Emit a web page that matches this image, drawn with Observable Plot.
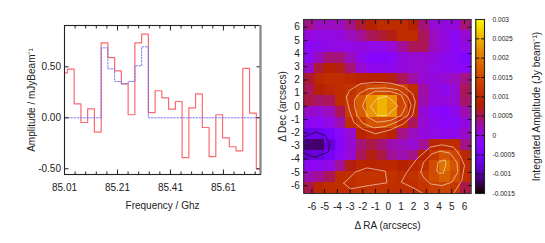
<!DOCTYPE html>
<html><head><meta charset="utf-8">
<script src="https://cdn.jsdelivr.net/npm/d3@7"></script>
<script src="https://cdn.jsdelivr.net/npm/@observablehq/plot@0.6"></script>
<style>
html,body{margin:0;padding:0;background:#fff}
#c{position:relative;width:545px;height:243px;overflow:hidden}
#c svg{position:absolute;top:0;background:transparent}
</style></head><body><div id="c"></div>
<script>
// Spectrum: left edge of each channel (GHz) and amplitudes (mJy/beam)
const freqEdges = [85.01,85.021,85.0465,85.072,85.0974,85.1229,85.1484,85.1738,85.1993,85.2248,85.2502,85.2757,85.3012,85.3266,85.3521,85.3776,85.4031,85.4285,85.454,85.4795,85.5049,85.5304,85.5559,85.5813,85.6068,85.6323,85.6577,85.6832,85.7087,85.7342,85.75];
const amplitude = [0.44,0.477,0.137,-0.046,0.088,-0.14,0.735,0.59,0.46,0.333,0.03,0.735,0.82,0.05,0.265,0.196,0.085,0.16,-0.39,0.098,0.235,-0.095,-0.38,0.03,-0.196,-0.284,-0.324,0.484,0.046,-0.5,-0.5];
const model = [0,0,0,0,0,0,0.686,0.48,0.356,0.333,0.356,0.51,0.696,0,0,0,0,0,0,0,0,0,0,0,0,0,0,0,0,0,0];

// Map: pixel edges in arcsec and integrated amplitude (mJy/beam), top row first
const raEdges = [-6.64,-5.817,-4.994,-4.171,-3.348,-2.525,-1.702,-0.879,-0.056,0.767,1.59,2.413,3.236,4.059,4.882,5.705,6.53];
const decEdges = [6.58,5.756,4.932,4.108,3.284,2.46,1.636,0.812,-0.012,-0.836,-1.66,-2.484,-3.308,-4.132,-4.956,-5.78,-6.6];
const mapValues = [
 [0.35,0.15,0.15,0.15,0.35,0.6,0.8,1.0,1.0,1.0,0.8,0.4,0.05,0,0,0.4],
 [0,-0.05,-0.05,0,0.15,0.3,0.5,0.6,0.7,1.0,1.0,0.5,0.15,0,-0.15,0.05],
 [-0.15,-0.1,-0.05,-0.05,-0.05,0,-0.05,-0.05,0.05,0.3,0.5,0.5,0.15,0,-0.15,-0.05],
 [-0.15,0.15,0.4,0.4,0.15,-0.1,-0.25,-0.3,-0.2,0,0.05,0.05,0,-0.1,-0.2,-0.35],
 [0.1,0.6,0.8,0.7,0.4,0.05,-0.1,-0.1,-0.1,0,0.05,0.05,-0.05,-0.1,-0.15,-0.2],
 [0.6,0.95,1.05,1.05,0.95,0.85,0.8,0.8,0.7,0.5,0.25,0.05,0,0.05,0.15,0.35],
 [0.5,0.8,0.9,1.0,1.1,1.3,1.5,1.5,1.4,1.3,1.0,0.25,0,-0.1,0.05,0.5],
 [0.55,0.45,0.5,1.0,1.2,1.7,2.25,2.5,2.25,1.4,0.95,0.2,0,0,0.05,0.45],
 [0.1,0.05,0.15,0.5,1.25,1.7,2.25,2.5,2.25,1.45,0.95,0.05,-0.15,-0.25,-0.1,0.2],
 [-0.15,-0.15,-0.05,0.2,1.05,1.3,1.6,1.6,1.5,1.0,0.5,0.05,-0.1,-0.2,-0.2,0],
 [-0.65,-0.65,-0.45,-0.2,0.05,0.85,1.0,1.0,0.85,0.35,0.15,0,-0.05,-0.1,-0.1,0.1],
 [-1.15,-1.2,-0.75,-0.25,0.05,0.4,0.55,0.4,0.2,0.15,0.05,0.3,0.9,1.0,1.0,0.35],
 [-0.8,-0.75,-0.5,-0.15,0.05,0.5,0.7,0.55,0.3,0.2,0.35,0.85,1.2,1.6,1.4,0.9],
 [-0.15,-0.15,-0.05,0.3,0.7,0.9,0.85,0.9,0.95,0.8,0.9,1.05,1.5,1.95,1.6,1.0],
 [0.2,0.3,0.5,1.0,1.05,1.15,1.15,1.1,1.1,1.0,1.1,1.25,1.5,1.75,1.5,1.05],
 [0.55,0.9,1.0,1.05,1.05,1.1,1.1,1.1,1.05,1.05,1.05,1.15,1.3,1.4,1.2,0.55]
];

const contoursLight = [
 [[-3.29,0.7],[-3.05,1.2],[-2.19,1.71],[-1.01,1.83],[0.17,1.76],[1.21,1.51],[1.92,0.95],[2.13,0.32],[1.92,-0.69],[1.21,-1.32],[0.17,-1.78],[-1.01,-2.08],[-2.06,-1.7],[-2.71,-1.2],[-3.05,-0.31],[-3.29,0.7]],
 [[-2.64,0.5],[-2.32,0.95],[-1.54,1.35],[-0.23,1.4],[0.82,1.25],[1.55,0.7],[1.81,0.07],[1.55,-0.69],[0.82,-1.12],[-0.23,-1.53],[-1.14,-1.63],[-2.01,-1.27],[-2.45,-0.69],[-2.64,-0.06],[-2.64,0.5]],
 [[-2.01,0.04],[-1.67,0.82],[-1.01,1.15],[0.17,1.13],[1.03,0.87],[1.4,0.04],[1.03,-0.69],[0.17,-1.07],[-0.88,-1.2],[-1.59,-0.82],[-2.01,0.04]],
 [[-1.38,-0.01],[-0.88,0.57],[-0.1,0.77],[0.77,0.04],[-0.1,-0.69],[-0.88,-0.69],[-1.38,-0.01]],
 [[2.78,-6.63],[2.13,-6.25],[1.03,-5.74],[1.47,-4.98],[2.26,-3.97],[3.31,-3.09],[4.22,-2.91],[5.14,-3.09],[5.66,-3.72],[6.0,-4.48],[5.79,-5.62],[5.14,-6.6]],
 [[2.57,-4.98],[2.78,-4.23],[3.44,-3.6],[4.09,-3.39],[4.88,-3.55],[5.4,-4.23],[5.48,-4.98],[5.01,-5.74],[4.22,-6],[3.31,-5.87],[2.78,-5.36],[2.57,-4.98]],
 [[3.83,-4.86],[3.91,-4.23],[4.48,-4.05],[4.54,-4.35],[4.35,-5.06],[3.96,-5.06],[3.83,-4.86]],
 [[-3.5,-5.82],[-2.58,-4.98],[-1.67,-4.66],[-0.23,-4.91],[-0.1,-5.79],[-1.54,-6],[-2.98,-6.25],[-3.5,-5.82]]
];
const contourDark = [[-6.64,-2.33],[-5.73,-1.95],[-4.94,-2.21],[-4.6,-2.84],[-4.73,-3.47],[-5.78,-3.85],[-6.51,-3.6],[-6.64,-3.47]];

// Tick lists
const freqTicks = [85.01,85.21,85.41,85.61];
const freqMinor = [85.05,85.09,85.13,85.17,85.25,85.29,85.33,85.37,85.45,85.49,85.53,85.57,85.65,85.69,85.73];
const ampTicks = [-0.5,0,0.5];
const arcTicks = [-6,-5,-4,-3,-2,-1,0,1,2,3,4,5,6];
const barTicks = [-1.5,-1,-0.5,0,0.5,1,1.5,2,2.5,3];
const barLabels = ["-0.0015","-0.001","-0.0005","0","0.0005","0.001","0.0015","0.002","0.0025","0.003"];

const FONT = "Liberation Sans, Arial, sans-serif";
const INK = "#222";
const pm3d = t => {
  const r = Math.sqrt(t), g = t*t*t, b = Math.max(0, Math.sin(2*Math.PI*t));
  return `rgb(${Math.round(255*r)},${Math.round(255*g)},${Math.round(255*b)})`;
};
const colorScale = {type:"linear", domain:[-1.5,3], interpolate:()=>pm3d, clamp:true};
const c = document.getElementById("c");
function place(svg,left){svg.style.left=left+"px";c.appendChild(svg);}

// Left: spectrum
const specRows = freqEdges.map((f,i)=>({f,a:amplitude[i],m:model[i]}));
place(Plot.plot({
  width:270,height:243,marginLeft:64,marginRight:10,marginTop:25,marginBottom:69,
  style:{fontFamily:FONT,fontSize:"10px",color:INK,background:"transparent"},
  x:{domain:[85.01,85.75],label:null},
  y:{domain:[-0.556,0.905],label:null},
  marks:[
    Plot.lineY(specRows,{x:"f",y:"a",curve:"step-after",stroke:"#fb6a70",strokeWidth:1.2,clip:true}),
    Plot.lineY(specRows,{x:"f",y:"m",curve:"step-after",stroke:"#6a6af5",strokeWidth:0.9,strokeDasharray:"1.6,1.6",clip:true}),
    Plot.axisX({ticks:freqMinor,tickSize:-2.5,fill:"none",label:null,stroke:INK}),
    Plot.axisX({anchor:"top",ticks:freqMinor,tickSize:-2.5,fill:"none",label:null,stroke:INK}),
    Plot.axisX({anchor:"top",ticks:freqTicks,tickSize:-4.5,fill:"none",label:null,stroke:INK}),
    Plot.axisX({ticks:freqTicks,tickSize:-4.5,tickPadding:14,tickFormat:d=>d.toFixed(2),label:"Frequency / Ghz",labelAnchor:"center",labelArrow:"none",labelOffset:34,stroke:INK,fill:INK}),
    Plot.axisY({ticks:ampTicks,tickSize:-4.5,tickPadding:8,tickFormat:d=>d.toFixed(2),label:"Amplitude / mJyBeam⁻¹",labelAnchor:"center",labelArrow:"none",labelOffset:37,stroke:INK,fill:INK}),
    Plot.axisY({anchor:"right",ticks:ampTicks,tickSize:-4.5,fill:"none",label:null,stroke:INK}),
    Plot.frame({stroke:INK,strokeWidth:1.1}),
    Plot.ruleX([85.75],{stroke:"#888",strokeWidth:2.2})
  ]
}),0);

// Middle: map
const mapCells = mapValues.flatMap((row,j)=>row.map((v,i)=>({x1:raEdges[i],x2:raEdges[i+1],y1:decEdges[j+1],y2:decEdges[j],v})));
const contourRows = contoursLight.flatMap((pts,id)=>pts.map(([x,y])=>({x,y,id})));
const darkRows = contourDark.map(([x,y])=>({x,y}));
place(Plot.plot({
  width:215,height:243,marginLeft:33.3,marginRight:14.3,marginTop:19,marginBottom:50,
  style:{fontFamily:FONT,fontSize:"10px",color:INK,background:"transparent"},
  x:{domain:[-6.64,6.53],label:null},
  y:{domain:[-6.6,6.58],label:null},
  color:colorScale,
  marks:[
    Plot.rect(mapCells,{x1:"x1",x2:"x2",y1:"y1",y2:"y2",fill:"v",shapeRendering:"crispEdges"}),
    Plot.line(contourRows,{x:"x",y:"y",z:"id",stroke:"#f6dcc8",strokeOpacity:0.85,strokeWidth:0.8,clip:true}),
    Plot.line(darkRows,{x:"x",y:"y",stroke:"#1a0a2a",strokeWidth:0.8,clip:true}),
    Plot.axisX({ticks:arcTicks,tickSize:-4,tickPadding:13,tickFormat:d=>String(d),label:"Δ RA (arcsecs)",labelAnchor:"center",labelArrow:"none",labelOffset:35,stroke:"#111",fill:INK}),
    Plot.axisX({anchor:"top",ticks:arcTicks,tickSize:-4,fill:"none",label:null,stroke:"#111"}),
    Plot.axisY({ticks:arcTicks,tickSize:-4,tickPadding:8,tickFormat:d=>String(d),label:"Δ Dec (arcsecs)",labelAnchor:"center",labelArrow:"none",labelOffset:25,stroke:"#111",fill:INK}),
    Plot.axisY({anchor:"right",ticks:arcTicks,tickSize:-4,fill:"none",label:null,stroke:"#111"}),
    Plot.frame({stroke:"#333",strokeWidth:1.1})
  ]
}),270);

// Right: colour bar
const barRows = d3.range(-1.5,3,0.025).map(v=>({y1:v,y2:v+0.03,v}));
place(Plot.plot({
  width:75,height:243,marginLeft:5.3,marginRight:61,marginTop:19,marginBottom:50,
  style:{fontFamily:FONT,fontSize:"6.6px",color:INK,background:"transparent"},
  x:{domain:[0,1],axis:null},
  y:{domain:[-1.5,3],label:null},
  color:colorScale,
  marks:[
    Plot.rect(barRows,{x1:0,x2:1,y1:"y1",y2:"y2",fill:"v",shapeRendering:"crispEdges"}),
    Plot.axisY({ticks:barTicks,tickSize:-4,fill:"none",label:null,stroke:"#111"}),
    Plot.axisY({anchor:"right",ticks:barTicks,tickSize:-4,tickPadding:12,tickFormat:d=>barLabels[barTicks.indexOf(d)],label:null,stroke:"#111",fill:INK}),
    Plot.text(["Integrated Amplitude (Jy beam⁻¹)"],{frameAnchor:"right",dx:52,rotate:-90,fontSize:10.3,fill:INK,textAnchor:"middle",lineAnchor:"middle"}),
    Plot.frame({stroke:"#222",strokeWidth:1.1})
  ]
}),470);
</script></body></html>
